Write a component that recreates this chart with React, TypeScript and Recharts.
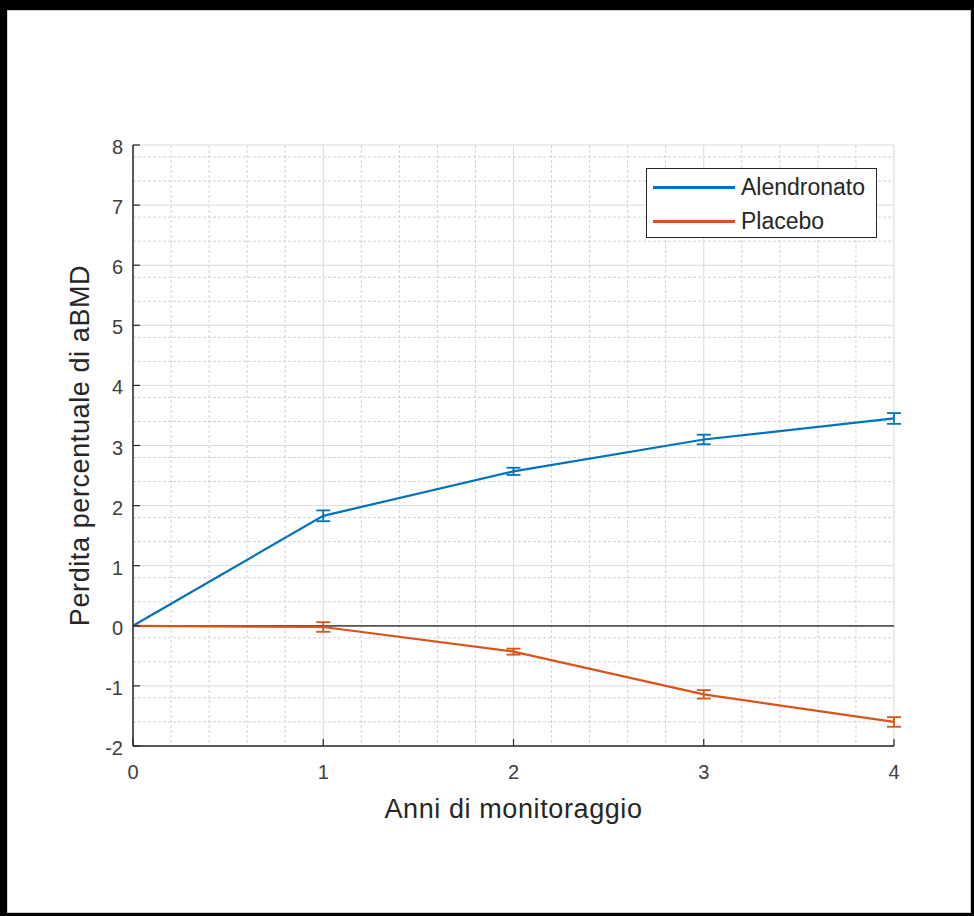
import {
  LineChart,
  Line,
  XAxis,
  YAxis,
  CartesianGrid,
  ErrorBar,
  Legend,
  ReferenceLine,
} from "recharts";

const FONT = '"Liberation Sans", Arial, Helvetica, sans-serif';

// Years of follow-up and mean % aBMD loss per group
const years = [0, 1, 2, 3, 4];
const alendronato = [0, 1.83, 2.57, 3.1, 3.45];
const alendronatoErr = [0, 0.09, 0.06, 0.08, 0.09];
const placebo = [0, -0.02, -0.43, -1.14, -1.6];
const placeboErr = [0, 0.08, 0.05, 0.07, 0.08];

const xTicks = [0, 1, 2, 3, 4];
const yTicks = [-2, -1, 0, 1, 2, 3, 4, 5, 6, 7, 8];

const BLUE = "#0072BD";
const ORANGE = "#D95319";
const AXIS = "#262626";

const series = [
  { key: "alendronato", err: "alendronatoErr", name: "Alendronato", color: BLUE },
  { key: "placebo", err: "placeboErr", name: "Placebo", color: ORANGE },
];

const data = years.map((year, i) => ({
  year,
  alendronato: alendronato[i],
  alendronatoErr: alendronatoErr[i],
  placebo: placebo[i],
  placeboErr: placeboErr[i],
}));

// minor grid every 0.2 between the major ticks
const minorSteps = (ticks: number[]) => {
  const out: number[] = [];
  for (let i = 0; i < ticks.length - 1; i++) {
    for (let k = 1; k < 5; k++) out.push(+(ticks[i] + (k * (ticks[i + 1] - ticks[i])) / 5).toFixed(2));
  }
  return out;
};
const xMinor = minorSteps(xTicks);
const yMinor = minorSteps(yTicks);

const BottomTick = (props: any) => {
  const { x, y, payload } = props;
  return (
    <g>
      <line x1={x} x2={x} y1={y} y2={y - 7} stroke={AXIS} strokeWidth={1.2} />
      <text x={x} y={y + 33} textAnchor="middle" fill="#404040" fontSize={20} fontFamily={FONT}>
        {payload.value}
      </text>
    </g>
  );
};

const TopTick = (props: any) => {
  const { x, y } = props;
  return <line x1={x} x2={x} y1={y} y2={y + 7} stroke={AXIS} strokeWidth={1.2} />;
};

const LeftTick = (props: any) => {
  const { x, y, payload } = props;
  return (
    <g>
      <line x1={x} x2={x + 7} y1={y} y2={y} stroke={AXIS} strokeWidth={1.2} />
      <text x={x - 10} y={y + 9} textAnchor="end" fill="#404040" fontSize={20} fontFamily={FONT}>
        {payload.value}
      </text>
    </g>
  );
};

const RightTick = (props: any) => {
  const { x, y } = props;
  return <line x1={x} x2={x - 7} y1={y} y2={y} stroke={AXIS} strokeWidth={1.2} />;
};

const renderLegend = () => (
  <div
    style={{
      width: 231,
      height: 70,
      boxSizing: "border-box",
      border: `1.5px solid ${AXIS}`,
      background: "#fff",
      fontFamily: FONT,
      fontSize: 23,
      color: "#262626",
      paddingTop: 1,
    }}
  >
    {series.map((s) => (
      <div key={s.key} style={{ display: "flex", alignItems: "center", height: 34 }}>
        <span
          style={{
            display: "inline-block",
            width: 82,
            height: 3,
            background: s.color,
            marginLeft: 6,
            marginRight: 6,
          }}
        />
        {s.name}
      </div>
    ))}
  </div>
);

const YLabel = (props: any) => {
  const { viewBox } = props;
  const cy = viewBox.y + viewBox.height / 2;
  return (
    <text
      x={89}
      y={cy}
      transform={`rotate(-90, 89, ${cy})`}
      textAnchor="middle"
      fill="#262626"
      fontSize={27}
      letterSpacing={0.6}
      fontFamily={FONT}
    >
      Perdita percentuale di aBMD
    </text>
  );
};

export default function App() {
  return (
    <div style={{ position: "absolute", left: 0, top: 0, width: 974, height: 916, background: "#fff" }}>
      <LineChart
        width={974}
        height={916}
        data={data}
        margin={{ top: 145, right: 80, bottom: 130, left: 73 }}
      >
        <CartesianGrid
          horizontalValues={yMinor}
          verticalValues={xMinor}
          stroke="#d2d2d2"
          strokeDasharray="3 2"
        />
        <CartesianGrid horizontalValues={yTicks} verticalValues={xTicks} stroke="#dadada" />
        <XAxis
          dataKey="year"
          type="number"
          domain={[0, 4]}
          ticks={xTicks}
          height={40}
          tickSize={0}
          tickMargin={0}
          tickLine={false}
          tick={<BottomTick />}
          axisLine={{ stroke: AXIS, strokeWidth: 1.5 }}
          label={{
            value: "Anni di monitoraggio",
            position: "bottom",
            offset: 13,
            fill: "#262626",
            fontSize: 27,
            letterSpacing: 0.6,
            fontFamily: FONT,
          }}
        />
        <XAxis
          xAxisId="top"
          orientation="top"
          dataKey="year"
          type="number"
          domain={[0, 4]}
          ticks={xTicks}
          height={0}
          tickSize={0}
          tickMargin={0}
          tickLine={false}
          tick={<TopTick />}
          axisLine={{ stroke: AXIS, strokeWidth: 1.5 }}
        />
        <YAxis
          type="number"
          domain={[-2, 8]}
          ticks={yTicks}
          width={60}
          tickSize={0}
          tickMargin={0}
          tickLine={false}
          tick={<LeftTick />}
          axisLine={{ stroke: AXIS, strokeWidth: 1.5 }}
          label={{ content: <YLabel /> }}
        />
        <YAxis
          yAxisId="right"
          orientation="right"
          type="number"
          domain={[-2, 8]}
          ticks={yTicks}
          width={0}
          tickSize={0}
          tickMargin={0}
          tickLine={false}
          tick={<RightTick />}
          axisLine={{ stroke: AXIS, strokeWidth: 1.5 }}
        />
        <ReferenceLine y={0} stroke="#555555" strokeWidth={1.8} />
        {series.map((s) => (
          <Line
            key={s.key}
            dataKey={s.key}
            name={s.name}
            type="linear"
            stroke={s.color}
            strokeWidth={2.2}
            dot={false}
            activeDot={false}
            isAnimationActive={false}
          >
            <ErrorBar dataKey={s.err} width={7} stroke={s.color} strokeWidth={1.8} />
          </Line>
        ))}
        <Legend
          layout="horizontal"
          verticalAlign="middle"
          align="center"
          content={renderLegend}
          wrapperStyle={{ position: "absolute", top: 168, left: 646, width: 231 }}
        />
      </LineChart>
      {/* outer frame */}
      <div
        style={{
          position: "absolute",
          left: 0,
          top: 0,
          width: 974,
          height: 916,
          boxSizing: "border-box",
          borderStyle: "solid",
          borderColor: "#000",
          borderWidth: "10px 3px 3px 7px",
          boxShadow: "inset 0 0 0 1px #cfcfcf",
          pointerEvents: "none",
        }}
      />
    </div>
  );
}
